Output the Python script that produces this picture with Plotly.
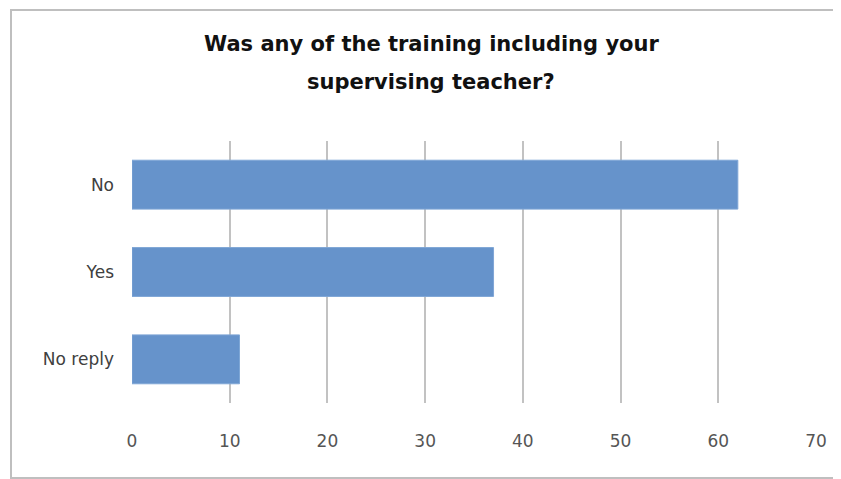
import plotly.graph_objects as go

categories = ["No reply", "Yes", "No"]
values = [11, 37, 62]
x_ticks = [0, 10, 20, 30, 40, 50, 60, 70]
title_lines = ["Was any of the training including your", "supervising teacher?"]

# page body has an 8px margin; positions below are figure pixels
W, H = 841, 479
L, T = 124, 133
PLOT_R, PLOT_B = 808, 395
R, B = W - PLOT_R, H - PLOT_B
pw = PLOT_R - L
ph = PLOT_B - T

def px_x(p):
    return (p - L) / pw

def px_y(p):
    return (PLOT_B - p) / ph

FONT = "DejaVu Sans, Open Sans, sans-serif"

fig = go.Figure(go.Bar(
    x=values, y=categories, orientation="h",
    marker=dict(color="#6693CB", line=dict(color="#7FA6D6", width=1)),
    width=0.56,
))

annotations = []
for line, ypx in zip(title_lines, [36, 74]):
    annotations.append(dict(
        text=line, xref="paper", yref="paper", x=px_x(423), y=px_y(ypx),
        xanchor="center", yanchor="middle", showarrow=False,
        font=dict(size=21, color="#111111", family=FONT, weight="bold"),
    ))

fig.update_layout(
    width=W, height=H,
    margin=dict(l=L, r=R, t=T, b=B),
    plot_bgcolor="white", paper_bgcolor="white",
    showlegend=False,
    font=dict(family=FONT, color="#404040"),
    xaxis=dict(range=[0, 70], tickvals=x_ticks, showgrid=True, gridcolor="#C2C2C2",
               gridwidth=2, zeroline=False, showline=False, ticks="",
               tickfont=dict(size=17, color="#555555"), ticklabelstandoff=26),
    yaxis=dict(showgrid=False, zeroline=False, showline=False, ticks="",
               tickfont=dict(size=17, color="#404040"), ticklabelstandoff=17,
               categoryorder="array", categoryarray=categories),
    annotations=annotations,
    shapes=[dict(type="rect", xref="paper", yref="paper",
                 x0=px_x(3), x1=px_x(830), y0=px_y(470), y1=px_y(2),
                 line=dict(color="#BFBFBF", width=2), layer="below")],
)

fig.write_html("out.html")
